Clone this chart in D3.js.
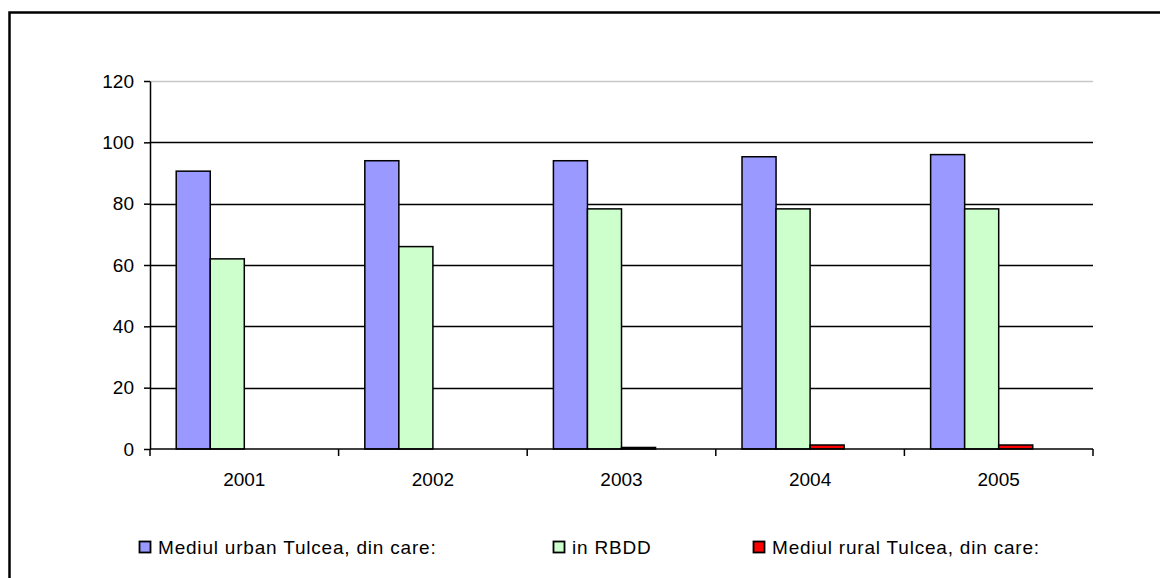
<!DOCTYPE html>
<html lang="ro">
<head>
    <meta charset="UTF-8">
    <title>Mediul urban / rural Tulcea</title>
    <script src="https://d3js.org/d3.v7.min.js"></script>
    <style>
        body {
            margin: 0;
            background: #fff;
            font-family: Arial, 'Liberation Sans', sans-serif;
        }
        .tick text {
            font-size: 19px;
            fill: #000;
        }
        .legend-label {
            font-size: 19px;
            letter-spacing: 0.8px;
            fill: #000;
        }
    </style>
</head>
<body>
    <svg id="chart" width="1160" height="578"></svg>

    <script>
        // data
        const years = ["2001", "2002", "2003", "2004", "2005"];
        const seriesNames = ["Mediul urban Tulcea, din care:", "in RBDD", "Mediul rural Tulcea, din care:"];
        const urban = [90.6, 94, 94, 95.3, 96];
        const rbdd = [62, 66, 78.3, 78.3, 78.3];
        const rural = [0, 0, 0.5, 1.3, 1.3];
        const colors = ["#9999ff", "#ccffcc", "#ff0000"];
        const yTicks = [0, 20, 40, 60, 80, 100, 120];

        const plot = { left: 150, right: 1093, top: 81, bottom: 449 };

        const svg = d3.select("#chart");

        // outer chart border
        svg.append("rect")
           .attr("x", 9.5)
           .attr("y", 12.5)
           .attr("width", 1160)
           .attr("height", 600)
           .attr("fill", "none")
           .attr("stroke", "#000")
           .attr("stroke-width", 2.5);

        const x = d3.scaleBand()
                    .domain(years)
                    .range([plot.left, plot.right]);

        // four slots per year, the fourth one stays empty like in the original
        const x1 = d3.scaleBand()
                     .domain([0, 1, 2, 3])
                     .range([0, x.bandwidth()])
                     .paddingOuter(0.77);

        const y = d3.scaleLinear()
                    .domain([0, 120])
                    .range([plot.bottom, plot.top]);

        // gridlines
        svg.append("g")
           .selectAll("line")
           .data(yTicks.filter(d => d > 0))
           .join("line")
           .attr("x1", plot.left)
           .attr("x2", plot.right)
           .attr("y1", d => Math.round(y(d)) + 0.5)
           .attr("y2", d => Math.round(y(d)) + 0.5)
           .attr("stroke", d => d === 120 ? "#c8c8c8" : "#000")
           .attr("stroke-width", 1.3);

        // bars
        const table = years.map((yr, i) => ({ year: yr, values: [urban[i], rbdd[i], rural[i]] }));

        const groups = svg.append("g")
           .selectAll("g")
           .data(table)
           .join("g")
           .attr("transform", d => `translate(${x(d.year)},0)`);

        groups.selectAll("rect")
              .data(d => d.values.map((v, k) => ({ k, v })).filter(e => e.v > 0))
              .join("rect")
              .attr("x", e => x1(e.k))
              .attr("y", e => y(e.v))
              .attr("width", x1.bandwidth())
              .attr("height", e => y(0) - y(e.v))
              .attr("fill", e => colors[e.k])
              .attr("stroke", "#000")
              .attr("stroke-width", 1.5);

        // y axis
        const yAxis = svg.append("g")
           .attr("transform", `translate(${plot.left},0)`)
           .call(d3.axisLeft(y).tickValues(yTicks).tickSize(6).tickPadding(10).tickSizeOuter(0));
        yAxis.select(".domain").attr("stroke", "#000").attr("stroke-width", 1.5);
        yAxis.selectAll(".tick line").attr("stroke-width", 1.5);
        yAxis.selectAll("text").attr("font-family", "Arial, 'Liberation Sans', sans-serif");

        // x axis: ticks sit at band edges
        const xAxis = svg.append("g")
           .attr("transform", `translate(0,${plot.bottom})`);
        xAxis.append("line")
             .attr("x1", plot.left)
             .attr("x2", plot.right)
             .attr("stroke", "#000")
             .attr("stroke-width", 1.5);
        const edges = years.map(d => x(d)).concat([plot.right]);
        xAxis.selectAll(".edge")
             .data(edges)
             .join("line")
             .attr("class", "edge")
             .attr("x1", d => d)
             .attr("x2", d => d)
             .attr("y1", 0)
             .attr("y2", 7)
             .attr("stroke", "#000")
             .attr("stroke-width", 1.5);
        xAxis.selectAll("text")
             .data(years)
             .join("text")
             .attr("x", d => x(d) + x.bandwidth() / 2)
             .attr("y", 37)
             .attr("text-anchor", "middle")
             .attr("font-size", 19)
             .attr("font-family", "Arial, 'Liberation Sans', sans-serif")
             .text(d => d);

        // legend
        const legendX = [139, 553, 753];
        const legend = svg.append("g")
           .selectAll("g")
           .data(seriesNames)
           .join("g")
           .attr("transform", (d, i) => `translate(${legendX[i]},548)`);
        legend.append("rect")
              .attr("x", 0.5)
              .attr("y", -6.5)
              .attr("width", 11)
              .attr("height", 11)
              .attr("fill", (d, i) => colors[i])
              .attr("stroke", "#000")
              .attr("stroke-width", 1.8);
        legend.append("text")
              .attr("class", "legend-label")
              .attr("x", 19)
              .attr("y", 6)
              .text(d => d);
    </script>
</body>
</html>
